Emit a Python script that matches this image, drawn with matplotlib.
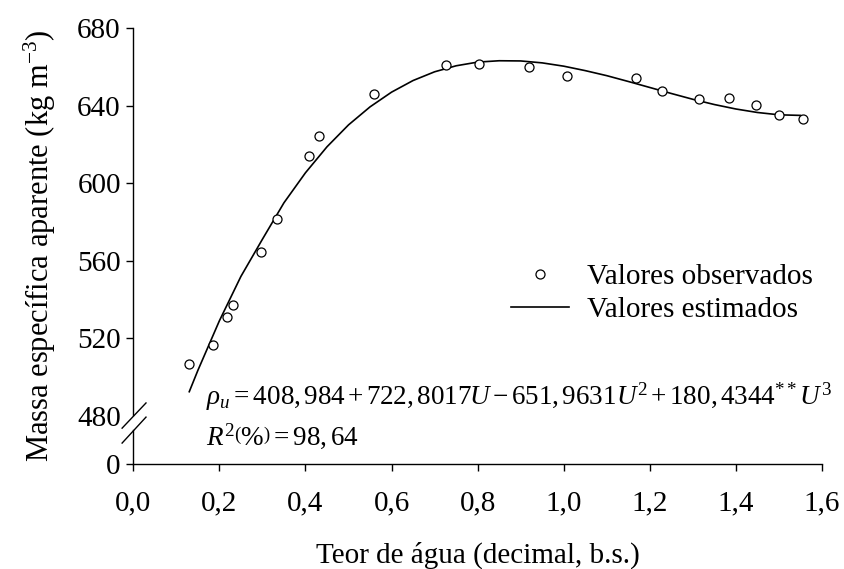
import numpy as np
import matplotlib
matplotlib.use("Agg")
import matplotlib.pyplot as plt

u_obs = [0.130, 0.186, 0.218, 0.232, 0.296, 0.335, 0.409, 0.432, 0.559, 0.727,
         0.804, 0.920, 1.007, 1.168, 1.228, 1.315, 1.385, 1.446, 1.500, 1.556]
rho_obs = [506.6, 516.4, 530.9, 536.9, 564.4, 581.3, 614.0, 624.3, 646.0, 660.9,
           661.2, 659.9, 655.0, 654.4, 647.5, 643.5, 643.9, 640.3, 635.0, 633.0]

# fitted curve
u_fit = [0.13, 0.15, 0.20, 0.25, 0.30, 0.35, 0.40, 0.45, 0.50, 0.55, 0.60, 0.65,
         0.70, 0.75, 0.80, 0.85, 0.90, 0.95, 1.00, 1.05, 1.10, 1.15, 1.20, 1.25,
         1.30, 1.35, 1.40, 1.45, 1.50, 1.55]
rho_fit = [492.3, 503.3, 528.9, 551.8, 571.0, 589.8, 605.3, 618.7, 630.0, 639.3,
           646.9, 652.9, 657.4, 660.5, 662.4, 663.1, 663.0, 662.0, 660.3, 658.0,
           655.4, 652.4, 649.3, 646.2, 643.2, 640.5, 638.2, 636.4, 635.2, 634.9]

yticks = [455, 480, 520, 560, 600, 640, 680]
ytick_labels = ['0', '480', '520', '560', '600', '640', '680']
xticks = [0.0, 0.2, 0.4, 0.6, 0.8, 1.0, 1.2, 1.4, 1.6]
xtick_labels = ['0,0', '0,2', '0,4', '0,6', '0,8', '1,0', '1,2', '1,4', '1,6']

plt.rcParams['font.family'] = 'Liberation Serif'
plt.rcParams['mathtext.fontset'] = 'custom'
plt.rcParams['mathtext.rm'] = 'Liberation Serif'
plt.rcParams['mathtext.it'] = 'Liberation Serif:italic'
plt.rcParams['mathtext.bf'] = 'Liberation Serif:bold'
fs = 21

fig = plt.figure(figsize=(8.44, 5.69), dpi=100)
ax = fig.add_axes([133.3/844, 1-464/569, (822-133.3)/844, (464-28)/569])

ax.plot(u_obs, rho_obs, 'o', mfc='white', mec='black', ms=6.5, mew=0.9,
        label='Valores observados', zorder=3)
ax.plot(u_fit, rho_fit, '-', color='black', lw=1.2, label='Valores estimados')

ax.set_xlim(0, 1.6)
ax.set_ylim(455, 680)
ax.set_xticks(xticks)
ax.set_xticklabels(xtick_labels)
ax.set_yticks(yticks)
ax.set_yticklabels(ytick_labels)
ax.tick_params(labelsize=fs, length=5, width=1, direction='out')
ax.tick_params(axis='x', pad=14)
ax.tick_params(axis='y', pad=4)
ax.yaxis.get_major_ticks()[1].tick1line.set_visible(False)

for s in ['top', 'right']:
    ax.spines[s].set_visible(False)
ax.spines['left'].set_bounds(480.4, 680)
ax.spines['bottom'].set_linewidth(1)
ax.spines['left'].set_linewidth(1)

# axis break
ax.plot([0, 0], [455, 472.5], color='black', lw=1, clip_on=False)
ax.plot([-0.026, 0.0295], [473.5, 486.5], color='black', lw=1, clip_on=False)
ax.plot([-0.026, 0.0295], [465.8, 479.2], color='black', lw=1, clip_on=False)

ax.set_xlabel('Teor de água (decimal, b.s.)', fontsize=fs, labelpad=18)
ax.set_ylabel(r'Massa específica aparente (kg m$^{-3}$)', fontsize=22, labelpad=14)

ax.text(0.169, 489.5,
        r'$\rho_u = 408{,}\,984\,{+}\,722{,}\,8017U\,{-}\,651{,}\,9631U^2'
        r'\,{+}\,180{,}\,4344^{**}U^3$',
        fontsize=19.5, va='center', ha='left')
ax.text(0.169, 469.5, r'$R^2\left(\%\right) = 98{,}\,64$',
        fontsize=19.5, va='center', ha='left')

ax.legend(loc='upper left', bbox_to_anchor=(511/844, 1-264/569),
          bbox_transform=fig.transFigure, frameon=False, fontsize=fs,
          handlelength=2.0, handletextpad=0.6, labelspacing=0.22,
          borderpad=0, borderaxespad=0)

fig.savefig('out.png', dpi=100)
